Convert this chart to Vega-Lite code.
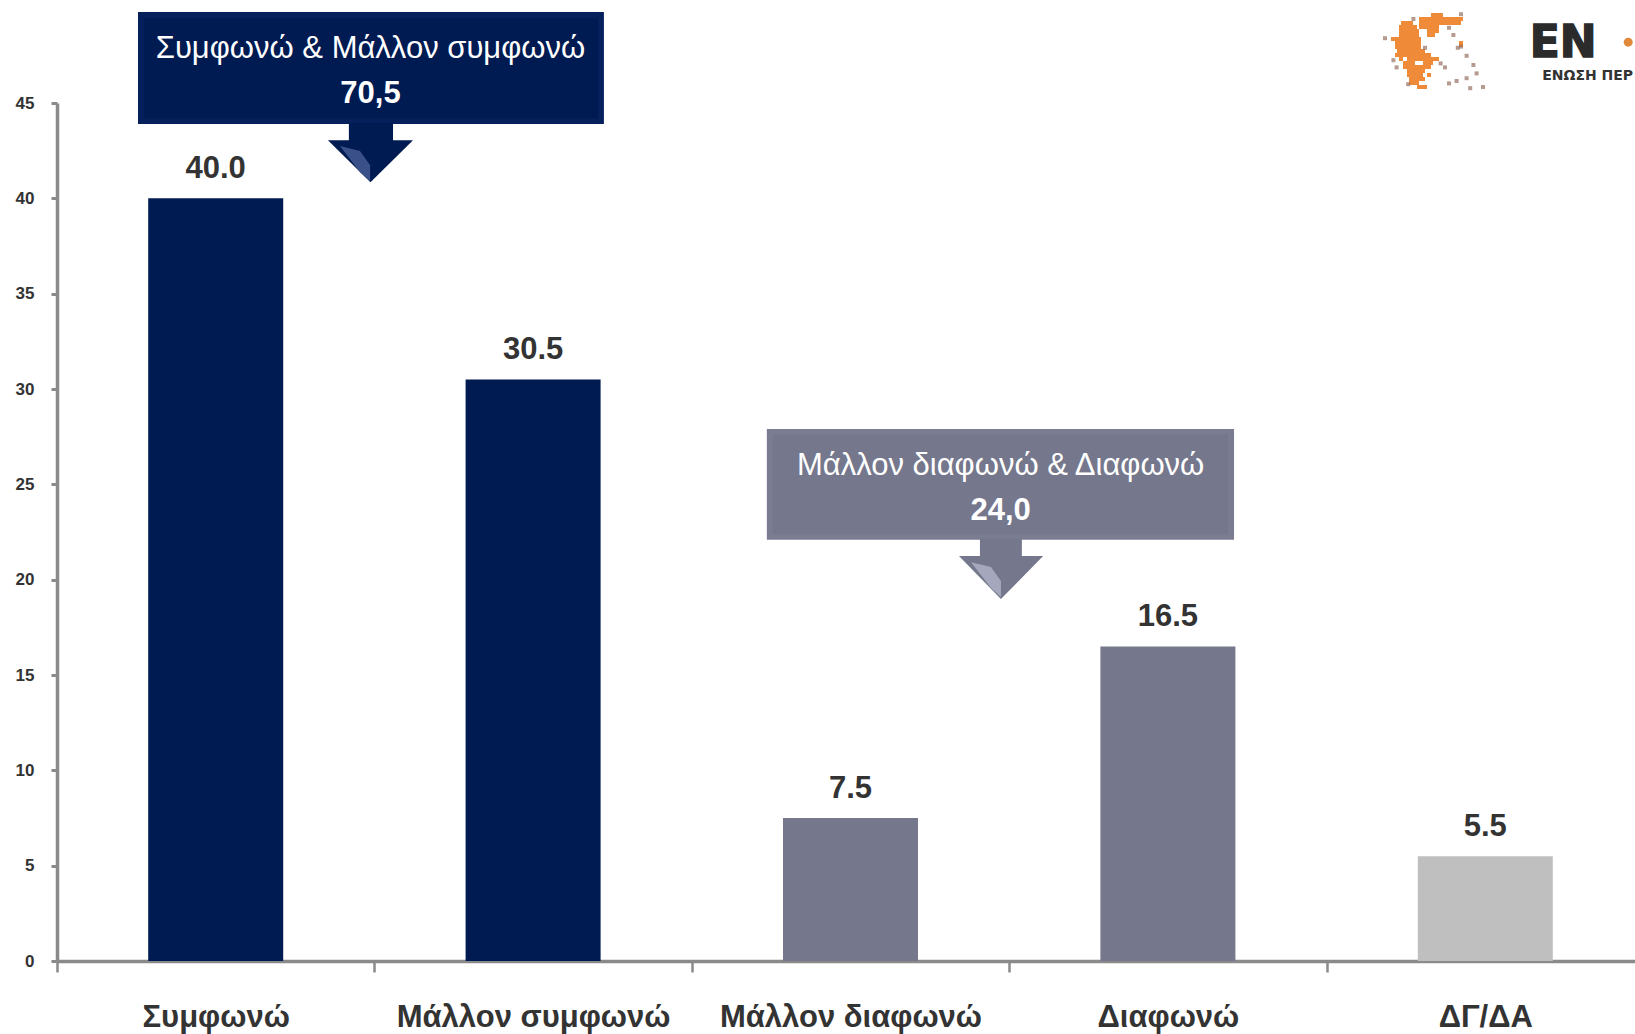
{"$schema":"https://vega.github.io/schema/vega-lite/v6.json","autosize":"none","width":1578,"height":858,"padding":{"left":57,"top":103,"right":0,"bottom":73},"background":"white","config":{"view":{"stroke":null}},
"datasets":{
"bars":[{"answer":"Συμφωνώ","value":40.0,"group":"agree"},{"answer":"Μάλλον συμφωνώ","value":30.5,"group":"agree"},{"answer":"Μάλλον διαφωνώ","value":7.5,"group":"disagree"},{"answer":"Διαφωνώ","value":16.5,"group":"disagree"},{"answer":"ΔΓ/ΔΑ","value":5.5,"group":"dk"}],
"boxes":[{"part":"agree-edge","x0":0.255,"x1":1.722,"top":49.77,"bot":43.9},{"part":"agree","x0":0.274,"x1":1.703,"top":49.45,"bot":44.2},{"part":"disagree-edge","x0":2.235,"x1":3.706,"top":27.9,"bot":22.1},{"part":"disagree","x0":2.254,"x1":3.687,"top":27.6,"bot":22.4}],
"shafts":[{"part":"agree","x0":0.919,"x1":1.058,"top":43.95,"bot":43.0},{"part":"disagree","x0":2.906,"x1":3.038,"top":22.15,"bot":21.2}],
"heads":[{"part":"agree","pos":0.853,"top":43.05,"bot":43.05},{"part":"agree","pos":0.987,"top":43.05,"bot":40.85},{"part":"agree","pos":1.121,"top":43.05,"bot":43.05},{"part":"disagree","pos":2.84,"top":21.24,"bot":21.24},{"part":"disagree","pos":2.972,"top":21.24,"bot":18.98},{"part":"disagree","pos":3.105,"top":21.24,"bot":21.24},{"part":"agree-sheen","pos":0.891,"top":42.74,"bot":42.74},{"part":"agree-sheen","pos":0.954,"top":42.48,"bot":41.37},{"part":"agree-sheen","pos":0.986,"top":41.74,"bot":40.9},{"part":"disagree-sheen","pos":2.878,"top":20.92,"bot":20.92},{"part":"disagree-sheen","pos":2.941,"top":20.66,"bot":19.56},{"part":"disagree-sheen","pos":2.972,"top":19.93,"bot":19.09}],
"captions":[{"text":"Συμφωνώ & Μάλλον συμφωνώ","pos":0.987,"val":47.85},{"text":"Μάλλον διαφωνώ & Διαφωνώ","pos":2.971,"val":25.96}],
"totals":[{"text":"70,5","pos":0.987,"val":45.45},{"text":"24,0","pos":2.971,"val":23.62}],
"map":[{"x0":14,"x1":17,"r0":2,"r1":3},{"x0":11,"x1":22,"r0":3,"r1":4},{"x0":6.5,"x1":9.5,"r0":4,"r1":5},{"x0":11,"x1":21.5,"r0":4,"r1":5},{"x0":6,"x1":10.5,"r0":5,"r1":6},{"x0":11,"x1":16,"r0":5,"r1":6},{"x0":6,"x1":11,"r0":6,"r1":7},{"x0":13,"x1":16,"r0":6,"r1":7},{"x0":6,"x1":11,"r0":7,"r1":8},{"x0":13,"x1":15,"r0":7,"r1":8},{"x0":4,"x1":11.5,"r0":8,"r1":9},{"x0":5,"x1":11.5,"r0":9,"r1":10},{"x0":5,"x1":11.5,"r0":10,"r1":11},{"x0":5.5,"x1":12.5,"r0":11,"r1":12},{"x0":5,"x1":14,"r0":12,"r1":13},{"x0":6,"x1":7,"r0":13,"r1":14},{"x0":8,"x1":16,"r0":13,"r1":14},{"x0":7,"x1":10,"r0":14,"r1":15},{"x0":12,"x1":14.5,"r0":14,"r1":15},{"x0":7,"x1":14,"r0":15,"r1":16},{"x0":8,"x1":12.5,"r0":16,"r1":17},{"x0":8,"x1":12,"r0":17,"r1":18},{"x0":13,"x1":14,"r0":17,"r1":18},{"x0":8.5,"x1":12.5,"r0":18,"r1":19},{"x0":8.5,"x1":11,"r0":19,"r1":20},{"x0":10.5,"x1":13,"r0":20,"r1":21},{"x0":21,"x1":22,"r0":9,"r1":10.5}],
"islands":[{"x":2.5,"y":8.3},{"x":9.6,"y":3.5},{"x":19.6,"y":7.5},{"x":21.5,"y":10.4},{"x":20.7,"y":10.7},{"x":22.9,"y":12.7},{"x":24.6,"y":15},{"x":25.4,"y":17.1},{"x":22.9,"y":18.3},{"x":20.4,"y":19},{"x":18.5,"y":19.6},{"x":16.4,"y":14.6},{"x":17.5,"y":15.6},{"x":12.5,"y":10.7},{"x":5.4,"y":15.6},{"x":4.6,"y":13.8},{"x":8.3,"y":19.8},{"x":21.5,"y":2.3},{"x":18.5,"y":5.7},{"x":23.8,"y":20.8},{"x":27,"y":20.5}],
"wordmark":[{"text":"EN","x":38.7,"y":13}],
"subtitle":[{"text":"ΕΝΩΣΗ ΠΕΡ","x":41.8,"y":18.75}],
"dot":[{"x":63.3,"y":9.3}]
},
"layer":[
{"data":{"name":"bars"},"mark":{"type":"bar","size":135},"encoding":{
"x":{"field":"answer","type":"nominal","sort":null,"scale":{"range":[0,1587],"paddingInner":0,"paddingOuter":0},"axis":{"title":null,"labelAngle":0,"labelFont":"Liberation Sans","labelFontWeight":"bold","labelFontSize":31,"labelColor":"#333333","labelPadding":54,"labelLimit":500,"labelOverlap":false,"labelBaseline":"alphabetic","tickBand":"extent","tickSize":11,"tickWidth":2.5,"tickColor":"#8a8a8a","domainColor":"#8a8a8a","domainWidth":3.5,"grid":false}},
"y":{"field":"value","type":"quantitative","scale":{"domain":[0,45],"nice":false},"axis":{"title":null,"values":[0,5,10,15,20,25,30,35,40,45],"labelFont":"Liberation Sans","labelFontWeight":"bold","labelFontSize":17,"labelColor":"#333333","labelPadding":17,"tickSize":6,"tickWidth":3,"tickColor":"#8a8a8a","domainColor":"#8a8a8a","domainWidth":3.5,"grid":false}},
"color":{"field":"group","type":"nominal","legend":null,"scale":{"domain":["agree","disagree","dk"],"range":["#001a52","#75778c","#bfbfbf"]}}}},
{"data":{"name":"bars"},"mark":{"type":"text","font":"Liberation Sans","fontWeight":"bold","fontSize":31,"color":"#333333","baseline":"alphabetic","dy":-20},"encoding":{
"x":{"field":"answer","type":"nominal","sort":null,"scale":{"range":[0,1587],"paddingInner":0,"paddingOuter":0},"axis":null},
"y":{"field":"value","type":"quantitative","scale":{"domain":[0,45],"nice":false},"axis":null},
"text":{"field":"value","type":"quantitative","format":".1f"}}},
{"data":{"name":"boxes"},"mark":{"type":"rect"},"encoding":{
"x":{"field":"x0","type":"quantitative","scale":{"domain":[0,5],"range":[0,1588],"nice":false,"zero":false},"axis":null},"x2":{"field":"x1"},
"y":{"field":"top","type":"quantitative","scale":{"domain":[0,45],"nice":false},"axis":null},"y2":{"field":"bot"},
"color":{"field":"part","type":"nominal","legend":null,"scale":{"domain":["agree-edge","agree","disagree-edge","disagree"],"range":["#05205a","#001a52","#7a7c91","#75778c"]}}}},
{"data":{"name":"shafts"},"mark":{"type":"rect"},"encoding":{
"x":{"field":"x0","type":"quantitative","scale":{"domain":[0,5],"range":[0,1588],"nice":false,"zero":false},"axis":null},"x2":{"field":"x1"},
"y":{"field":"top","type":"quantitative","scale":{"domain":[0,45],"nice":false},"axis":null},"y2":{"field":"bot"},
"color":{"field":"part","type":"nominal","legend":null,"scale":{"domain":["agree","disagree"],"range":["#001a52","#75778c"]}}}},
{"data":{"name":"heads"},"mark":{"type":"area","interpolate":"linear","orient":"vertical"},"encoding":{
"x":{"field":"pos","type":"quantitative","scale":{"domain":[0,5],"range":[0,1588],"nice":false,"zero":false},"axis":null},
"y":{"field":"top","type":"quantitative","scale":{"domain":[0,45],"nice":false},"axis":null},"y2":{"field":"bot"},
"color":{"field":"part","type":"nominal","legend":null,"scale":{"domain":["agree","disagree","agree-sheen","disagree-sheen"],"range":["#001a52","#75778c","#3a5088","#a5a7bc"]}}}},
{"data":{"name":"captions"},"mark":{"type":"text","font":"Liberation Sans","fontSize":31,"color":"white","baseline":"middle"},"encoding":{
"x":{"field":"pos","type":"quantitative","scale":{"domain":[0,5],"range":[0,1588],"nice":false,"zero":false},"axis":null},
"y":{"field":"val","type":"quantitative","scale":{"domain":[0,45],"nice":false},"axis":null},
"text":{"field":"text","type":"nominal"}}},
{"data":{"name":"totals"},"mark":{"type":"text","font":"Liberation Sans","fontWeight":"bold","fontSize":31,"color":"white","baseline":"middle"},"encoding":{
"x":{"field":"pos","type":"quantitative","scale":{"domain":[0,5],"range":[0,1588],"nice":false,"zero":false},"axis":null},
"y":{"field":"val","type":"quantitative","scale":{"domain":[0,45],"nice":false},"axis":null},
"text":{"field":"text","type":"nominal"}}},
{"data":{"name":"map"},"mark":{"type":"rect","color":"#ee8a38"},"encoding":{
"x":{"field":"x0","type":"quantitative","scale":{"domain":[0,30],"range":[1318,1438],"nice":false,"zero":false},"axis":null},"x2":{"field":"x1"},
"y":{"field":"r0","type":"quantitative","scale":{"domain":[0,22.5],"range":[-98,-8],"nice":false,"zero":false},"axis":null},"y2":{"field":"r1"}}},
{"data":{"name":"islands"},"mark":{"type":"square","filled":true,"size":16,"color":"#96705f"},"encoding":{
"x":{"field":"x","type":"quantitative","scale":{"domain":[0,30],"range":[1318,1438],"nice":false,"zero":false},"axis":null},
"y":{"field":"y","type":"quantitative","scale":{"domain":[0,22.5],"range":[-98,-8],"nice":false,"zero":false},"axis":null}}},
{"data":{"name":"wordmark"},"mark":{"type":"text","font":"DejaVu Sans","fontWeight":"bold","fontSize":44,"color":"#2b2b2b","stroke":"#2b2b2b","strokeWidth":1.5,"align":"left","baseline":"alphabetic"},"encoding":{
"x":{"field":"x","type":"quantitative","scale":{"domain":[0,30],"range":[1318,1438],"nice":false,"zero":false},"axis":null},
"y":{"field":"y","type":"quantitative","scale":{"domain":[0,22.5],"range":[-98,-8],"nice":false,"zero":false},"axis":null},
"text":{"field":"text","type":"nominal"}}},
{"data":{"name":"subtitle"},"mark":{"type":"text","font":"DejaVu Sans","fontWeight":"bold","fontSize":14,"color":"#333333","align":"left","baseline":"alphabetic"},"encoding":{
"x":{"field":"x","type":"quantitative","scale":{"domain":[0,30],"range":[1318,1438],"nice":false,"zero":false},"axis":null},
"y":{"field":"y","type":"quantitative","scale":{"domain":[0,22.5],"range":[-98,-8],"nice":false,"zero":false},"axis":null},
"text":{"field":"text","type":"nominal"}}},
{"data":{"name":"dot"},"mark":{"type":"circle","size":80,"opacity":1,"color":"#e0893a"},"encoding":{
"x":{"field":"x","type":"quantitative","scale":{"domain":[0,30],"range":[1318,1438],"nice":false,"zero":false},"axis":null},
"y":{"field":"y","type":"quantitative","scale":{"domain":[0,22.5],"range":[-98,-8],"nice":false,"zero":false},"axis":null}}}
],
"resolve":{"scale":{"x":"independent","y":"independent","color":"independent"},"axis":{"x":"independent","y":"independent"}}}
